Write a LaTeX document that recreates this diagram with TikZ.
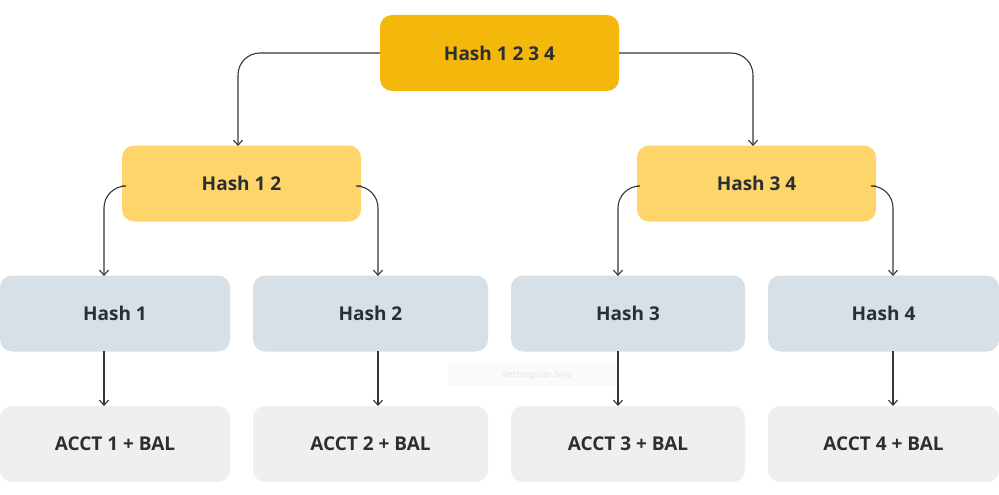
\documentclass[tikz,border=0pt]{standalone}
\usepackage{fontspec}
\setmainfont{Open Sans}
\usetikzlibrary{arrows.meta}
\definecolor{topc}{HTML}{F4B70C}
\definecolor{midc}{HTML}{FDD56A}
\definecolor{hashc}{HTML}{D6E0E6}
\definecolor{acctc}{HTML}{EFEFEF}
\definecolor{txt}{HTML}{2B2F33}
\definecolor{lnc}{HTML}{33373B}
\tikzset{
 box/.style={rounded corners=12pt, minimum height=76pt, inner sep=0pt, font=\bfseries\fontsize{19}{22}\selectfont, text=txt},
 arr/.style={draw=lnc, line width=1.1pt, -{Straight Barb[length=5pt,width=9pt]}, rounded corners=22pt},
}
\begin{document}
\begin{tikzpicture}[x=1pt,y=-1pt]
\useasboundingbox[fill=white] (0,0) rectangle (999,495);
\node[box, fill=topc, minimum width=239pt] (top) at (499.5,53) {Hash 1 2 3 4};
\node[box, fill=midc, minimum width=239pt] (h12) at (241.5,183.5) {Hash 1 2};
\node[box, fill=midc, minimum width=239pt] (h34) at (756.5,183.5) {Hash 3 4};
\foreach \n/\x/\w in {1/115/230,2/370.5/235,3/628/234,4/883.5/231}{
 \node[box, fill=hashc, minimum width=\w pt] (h\n) at (\x,313.5) {Hash \n};
 \node[box, fill=acctc, minimum width=\w pt] (a\n) at (\x,444) {ACCT \n{} + BAL};
}
\node[fill=black!2, minimum width=170pt, minimum height=22pt, text=black!10, font=\fontsize{9}{10}\selectfont] (snip) at (533,375) {\hspace*{8pt}Rectangular Snip};
\coordinate (c1) at (238,146);
\coordinate (c2) at (753,146);
\coordinate (c3) at (104,276);
\coordinate (c4) at (378,276);
\coordinate (c5) at (618,276);
\coordinate (c6) at (893,276);
\draw[arr] (top.west) -| (c1);
\draw[arr] (top.east) -| (c2);
\draw[arr] (h12.west |- 0,186) -| (c3);
\draw[arr] (h12.east |- 0,186) -| (c4);
\draw[arr] (h34.west |- 0,186) -| (c5);
\draw[arr] (h34.east |- 0,186) -| (c6);
\foreach \i/\x in {1/104,2/378,3/618,4/893}
 \draw[arr] (\x,351) -- (\x,406);
\end{tikzpicture}
\end{document}
